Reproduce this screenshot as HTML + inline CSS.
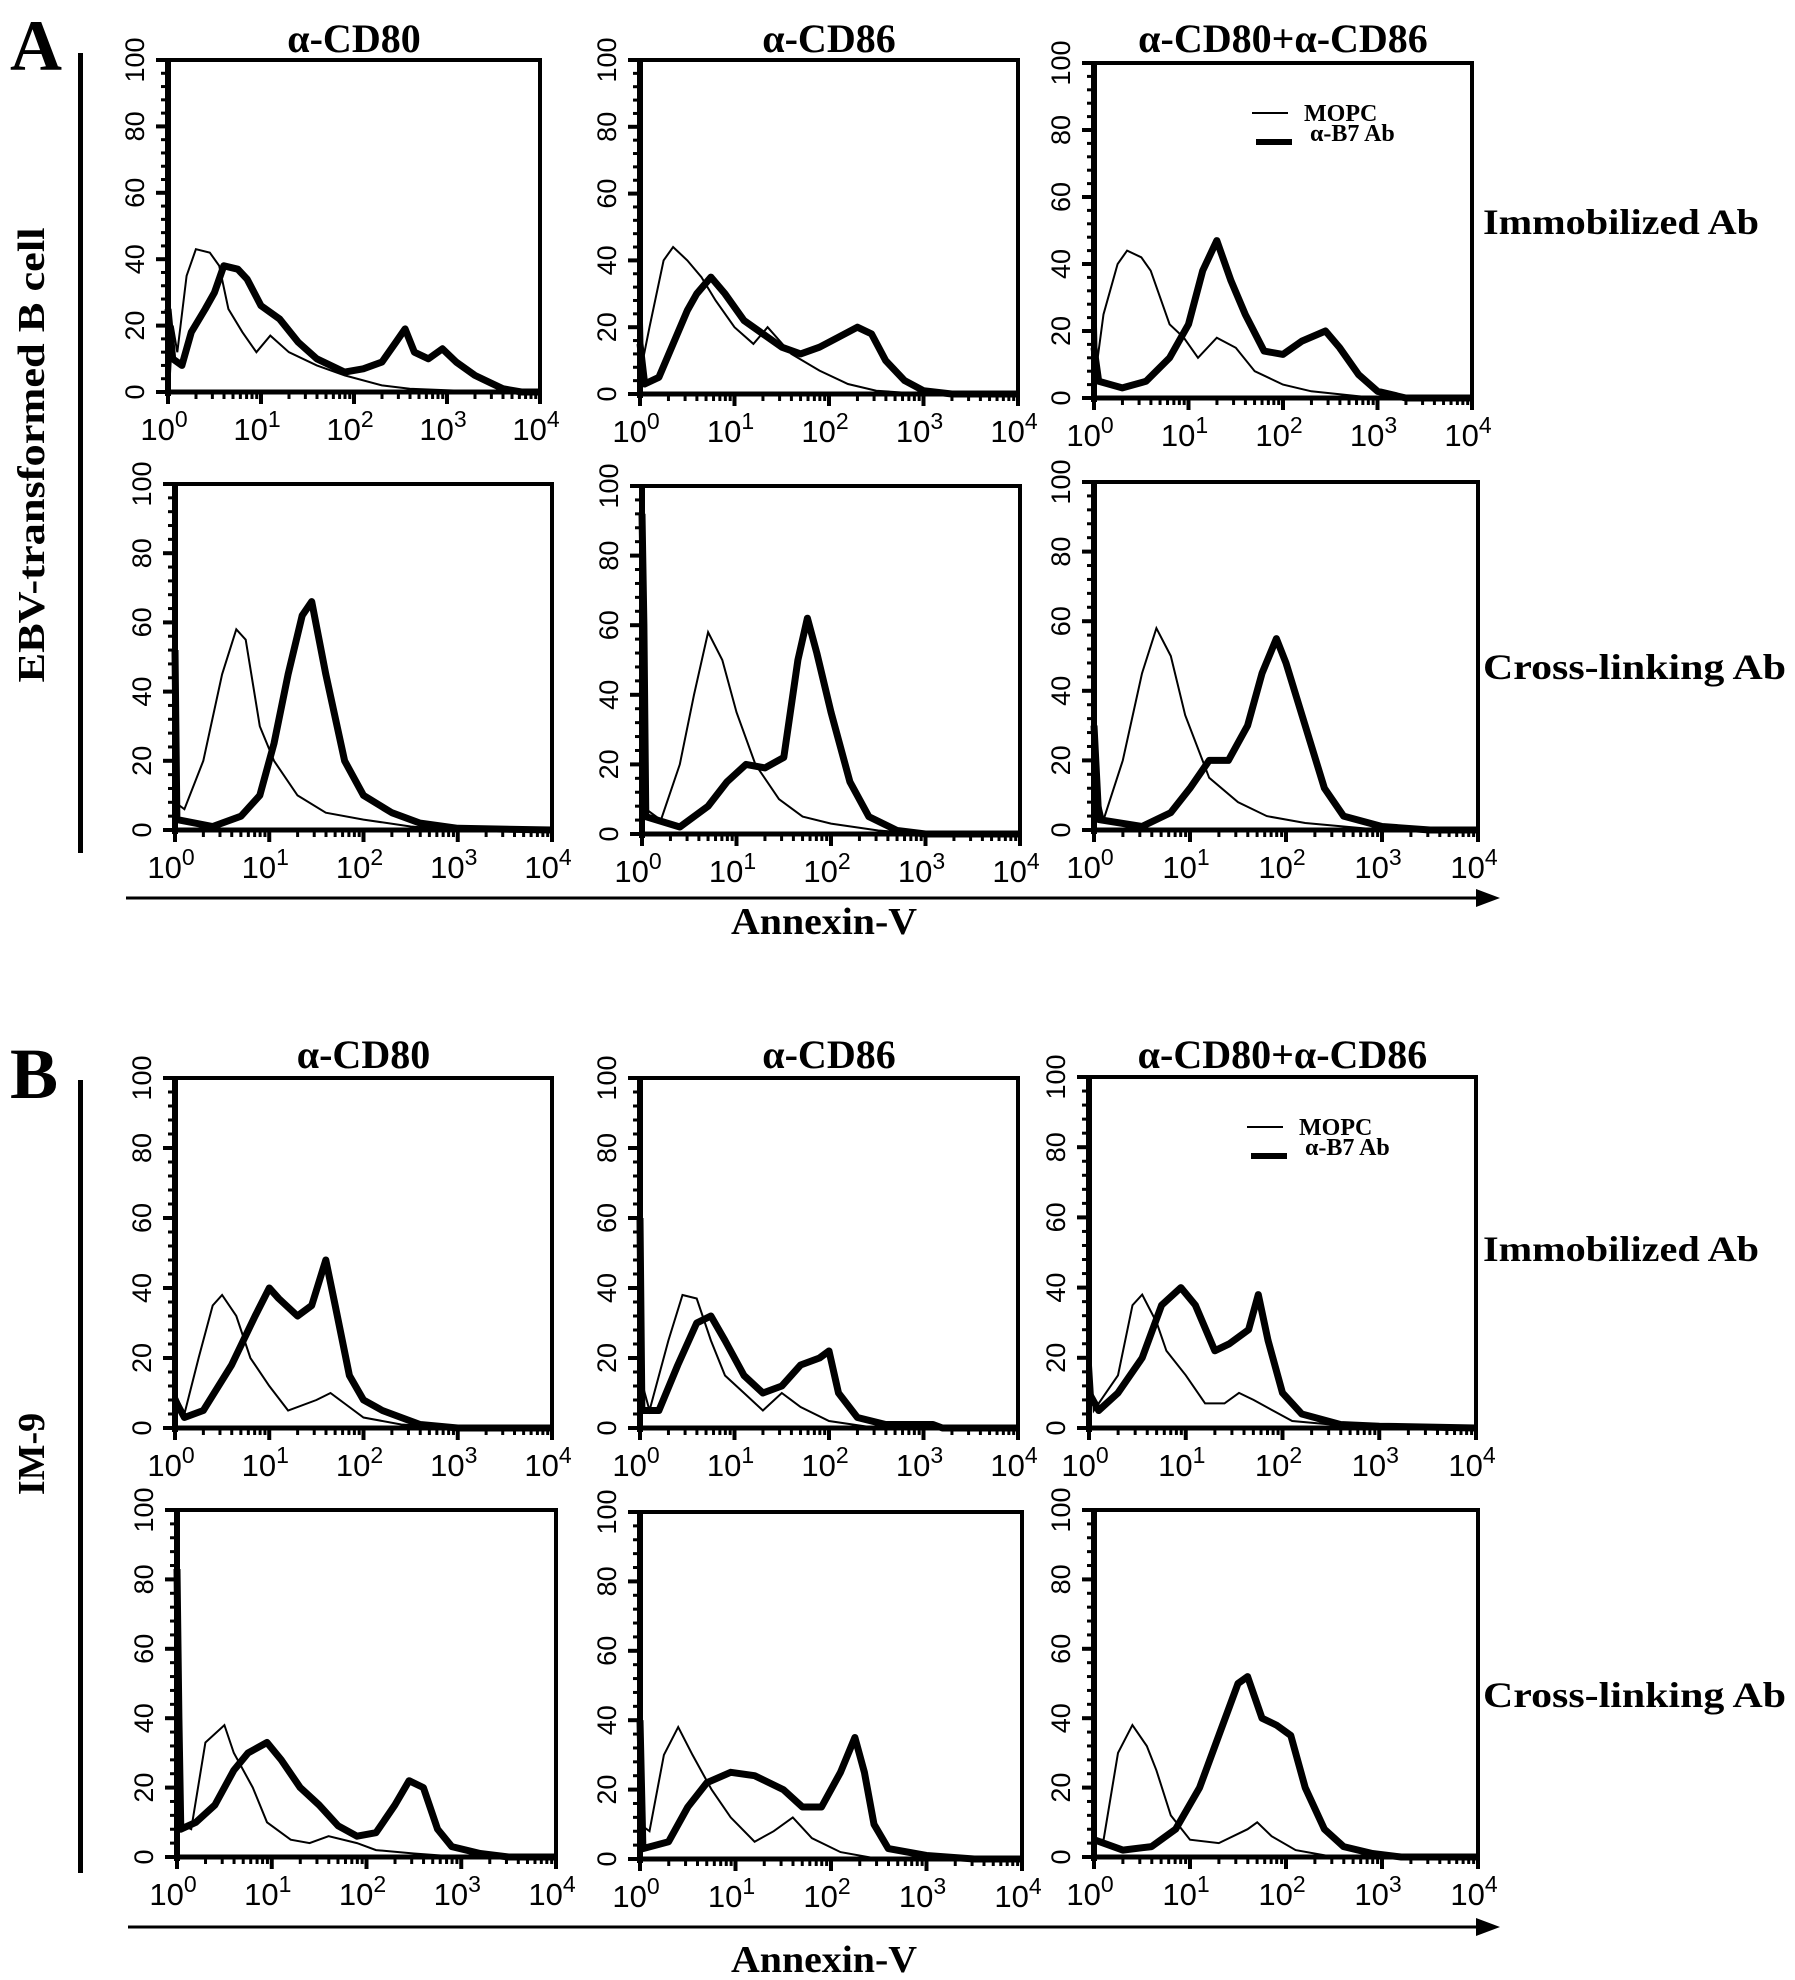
<!DOCTYPE html>
<html><head><meta charset="utf-8"><style>
html,body{margin:0;padding:0;background:#fff;}
svg{display:block;}
text{font-family:"Liberation Serif",serif;font-weight:bold;fill:#000;}
.tk{font-family:"Liberation Sans",sans-serif;font-weight:normal;}
</style></head><body>
<svg id="fig" width="1795" height="1980" viewBox="0 0 1795 1980" xmlns="http://www.w3.org/2000/svg">
<g>
<text x="10" y="70" font-size="72">A</text>
<rect x="78" y="53" width="5" height="800"/>
<text transform="translate(44,455) rotate(-90)" text-anchor="middle" font-size="38" textLength="455" lengthAdjust="spacingAndGlyphs">EBV-transformed B cell</text>
<text x="1483" y="234" font-size="36" textLength="276" lengthAdjust="spacingAndGlyphs">Immobilized Ab</text>
<text x="1483" y="679" font-size="36" textLength="303" lengthAdjust="spacingAndGlyphs">Cross-linking  Ab</text>
<line x1="126" y1="898" x2="1480" y2="898" stroke="#000" stroke-width="3"/>
<polygon points="1500,898 1476,889 1476,907"/>
<text x="824" y="934" text-anchor="middle" font-size="38" textLength="186" lengthAdjust="spacingAndGlyphs">Annexin-V</text>
</g>
<g>
<text x="10" y="1098" font-size="72">B</text>
<rect x="78" y="1080" width="5" height="793"/>
<text transform="translate(44,1454) rotate(-90)" text-anchor="middle" font-size="38">IM-9</text>
<text x="1483" y="1261" font-size="36" textLength="276" lengthAdjust="spacingAndGlyphs">Immobilized Ab</text>
<text x="1483" y="1707" font-size="36" textLength="303" lengthAdjust="spacingAndGlyphs">Cross-linking  Ab</text>
<line x1="128" y1="1927" x2="1480" y2="1927" stroke="#000" stroke-width="3"/>
<polygon points="1500,1927 1476,1918 1476,1936"/>
<text x="824" y="1972" text-anchor="middle" font-size="38" textLength="186" lengthAdjust="spacingAndGlyphs">Annexin-V</text>
</g>
</svg>
<script>
// ---- data (x = log10 Annexin-V intensity, y = % of max) ----
const decadeTicks=[0,1,2,3,4];
const yTicks=[0,20,40,60,80,100];
const colTitles=["\u03b1-CD80","\u03b1-CD86","\u03b1-CD80+\u03b1-CD86"];

const a11ThinX=[0,0.02,0.05,0.1,0.2,0.3,0.45,0.55,0.65,0.8,0.95,1.1,1.3,1.6,1.9,2.3,2.6,3,3.5,4];
const a11ThinY=[50,5,20,12,35,43,42,38,25,18,12,17,12,8,5,2,1,0.5,0,0];
const a11ThickX=[0,0.05,0.15,0.25,0.4,0.5,0.6,0.75,0.85,1.0,1.2,1.4,1.6,1.9,2.1,2.3,2.45,2.55,2.65,2.8,2.95,3.1,3.3,3.6,3.8,4];
const a11ThickY=[25,10,8,18,25,30,38,37,34,26,22,15,10,6,7,9,15,19,12,10,13,9,5,1,0,0];

const a12ThinX=[0,0.03,0.1,0.25,0.35,0.5,0.65,0.8,1.0,1.2,1.35,1.6,1.9,2.2,2.5,3,4];
const a12ThinY=[50,10,20,40,44,40,35,28,20,15,20,12,7,3,1,0,0];
const a12ThickX=[0,0.05,0.2,0.35,0.5,0.6,0.75,0.9,1.1,1.3,1.5,1.7,1.9,2.1,2.3,2.45,2.6,2.8,3.0,3.3,4];
const a12ThickY=[15,3,5,15,25,30,35,30,22,18,14,12,14,17,20,18,10,4,1,0,0];

const a13ThinX=[0,0.03,0.1,0.25,0.35,0.5,0.6,0.8,0.95,1.1,1.3,1.5,1.7,2,2.3,2.8,3,4];
const a13ThinY=[50,10,25,40,44,42,38,22,18,12,18,15,8,4,2,0.5,0,0];
const a13ThickX=[0,0.05,0.3,0.55,0.8,1,1.15,1.3,1.45,1.6,1.8,2.0,2.2,2.45,2.6,2.8,3,3.3,4];
const a13ThickY=[15,5,3,5,12,22,38,47,35,25,14,13,17,20,15,7,2,0,0];

const a21ThinX=[0,0.1,0.3,0.5,0.65,0.75,0.9,1.05,1.3,1.6,2,2.5,3,4];
const a21ThinY=[8,6,20,45,58,55,30,20,10,5,3,1,0,0];
const a21ThickX=[0,0.02,0.4,0.7,0.9,1.05,1.2,1.35,1.45,1.6,1.8,2.0,2.3,2.6,3,4];
const a21ThickY=[52,3,1,4,10,25,45,62,66,45,20,10,5,2,0.5,0];

const a22ThinX=[0,0.2,0.4,0.55,0.7,0.85,1.0,1.2,1.45,1.7,2.0,2.5,3,4];
const a22ThinY=[8,4,20,40,58,50,35,20,10,5,3,1,0,0];
const a22ThickX=[0,0.02,0.04,0.4,0.7,0.9,1.1,1.3,1.5,1.65,1.75,1.85,2.0,2.2,2.4,2.7,3,4];
const a22ThickY=[92,60,5,2,8,15,20,19,22,50,62,52,35,15,5,1,0,0];

const a23ThinX=[0,0.1,0.3,0.5,0.65,0.8,0.95,1.2,1.5,1.8,2.2,2.6,3,4];
const a23ThinY=[15,3,20,45,58,50,33,15,8,4,2,1,0,0];
const a23ThickX=[0,0.05,0.5,0.8,1.0,1.2,1.4,1.6,1.75,1.9,2.0,2.2,2.4,2.6,3,3.5,4];
const a23ThickY=[30,3,1,5,12,20,20,30,45,55,48,30,12,4,1,0,0];

const b11ThinX=[0,0.1,0.25,0.4,0.5,0.65,0.8,1.0,1.2,1.5,1.65,1.8,2.0,2.4,3,4];
const b11ThinY=[10,4,20,35,38,32,20,12,5,8,10,7,3,1,0,0];
const b11ThickX=[0,0.1,0.3,0.6,0.85,1.0,1.1,1.3,1.45,1.6,1.7,1.85,2.0,2.2,2.4,2.6,3,4];
const b11ThickY=[8,3,5,18,32,40,37,32,35,48,35,15,8,5,3,1,0,0];

const b12ThinX=[0,0.1,0.3,0.45,0.6,0.75,0.9,1.1,1.3,1.5,1.7,2.0,2.5,4];
const b12ThinY=[15,5,25,38,37,25,15,10,5,10,6,2,0,0];
const b12ThickX=[0,0.02,0.2,0.4,0.6,0.75,0.9,1.1,1.3,1.5,1.7,1.9,2.0,2.1,2.3,2.6,3.1,3.2,4];
const b12ThickY=[60,5,5,18,30,32,25,15,10,12,18,20,22,10,3,1,1,0,0];

const b13ThinX=[0,0.05,0.3,0.45,0.55,0.7,0.8,1.0,1.2,1.4,1.55,1.7,1.9,2.1,2.5,4];
const b13ThinY=[27,5,15,35,38,30,22,15,7,7,10,8,5,2,1,0];
const b13ThickX=[0,0.1,0.3,0.55,0.75,0.95,1.1,1.3,1.45,1.65,1.75,1.85,2.0,2.2,2.6,3,4];
const b13ThickY=[10,5,10,20,35,40,35,22,24,28,38,25,10,4,1,0.5,0];

const b21ThinX=[0,0.15,0.3,0.5,0.6,0.8,0.95,1.2,1.4,1.6,1.9,2.1,2.5,3,4];
const b21ThinY=[10,8,33,38,30,20,10,5,4,6,4,2,1,0,0];
const b21ThickX=[0,0.02,0.04,0.2,0.4,0.6,0.75,0.95,1.1,1.3,1.5,1.7,1.9,2.1,2.3,2.45,2.6,2.75,2.9,3.2,3.5,4];
const b21ThickY=[83,40,8,10,15,25,30,33,28,20,15,9,6,7,15,22,20,8,3,1,0,0];

const b22ThinX=[0,0.1,0.25,0.4,0.55,0.75,0.95,1.2,1.4,1.6,1.8,2.1,2.5,4];
const b22ThinY=[10,8,30,38,30,20,12,5,8,12,6,2,0,0];
const b22ThickX=[0,0.03,0.3,0.5,0.7,0.95,1.2,1.5,1.7,1.9,2.1,2.25,2.35,2.45,2.6,3,3.5,4];
const b22ThickY=[40,3,5,15,22,25,24,20,15,15,25,35,25,10,3,1,0,0];

const b23ThinX=[0,0.1,0.25,0.4,0.55,0.65,0.8,1.0,1.3,1.6,1.7,1.85,2.1,2.5,4];
const b23ThinY=[5,5,30,38,32,25,12,5,4,8,10,6,2,0,0];
const b23ThickX=[0,0.3,0.6,0.85,1.1,1.3,1.5,1.6,1.75,1.9,2.05,2.2,2.4,2.6,2.9,3.2,4];
const b23ThickY=[5,2,3,8,20,35,50,52,40,38,35,20,8,3,1,0,0];

// ---- layout ----
const panels=[
 {id:"a-immob-cd80",x0:168,x1:540,y0:60,y1:392,title:0,ty:52,legend:false,tx:a11ThinX,ty2:a11ThinY,kx:a11ThickX,ky:a11ThickY},
 {id:"a-immob-cd86",x0:640,x1:1018,y0:60,y1:394,title:1,ty:52,legend:false,tx:a12ThinX,ty2:a12ThinY,kx:a12ThickX,ky:a12ThickY},
 {id:"a-immob-both",x0:1094,x1:1472,y0:63,y1:398,title:2,ty:52,legend:true,tx:a13ThinX,ty2:a13ThinY,kx:a13ThickX,ky:a13ThickY},
 {id:"a-cross-cd80",x0:175,x1:552,y0:484,y1:830,title:-1,tx:a21ThinX,ty2:a21ThinY,kx:a21ThickX,ky:a21ThickY},
 {id:"a-cross-cd86",x0:642,x1:1020,y0:486,y1:834,title:-1,tx:a22ThinX,ty2:a22ThinY,kx:a22ThickX,ky:a22ThickY},
 {id:"a-cross-both",x0:1094,x1:1478,y0:482,y1:830,title:-1,tx:a23ThinX,ty2:a23ThinY,kx:a23ThickX,ky:a23ThickY},
 {id:"b-immob-cd80",x0:175,x1:552,y0:1078,y1:1428,title:0,ty:1068,legend:false,tx:b11ThinX,ty2:b11ThinY,kx:b11ThickX,ky:b11ThickY},
 {id:"b-immob-cd86",x0:640,x1:1018,y0:1078,y1:1428,title:1,ty:1068,legend:false,tx:b12ThinX,ty2:b12ThinY,kx:b12ThickX,ky:b12ThickY},
 {id:"b-immob-both",x0:1089,x1:1476,y0:1077,y1:1428,title:2,ty:1068,legend:true,tx:b13ThinX,ty2:b13ThinY,kx:b13ThickX,ky:b13ThickY},
 {id:"b-cross-cd80",x0:177,x1:556,y0:1510,y1:1857,title:-1,tx:b21ThinX,ty2:b21ThinY,kx:b21ThickX,ky:b21ThickY},
 {id:"b-cross-cd86",x0:640,x1:1022,y0:1512,y1:1859,title:-1,tx:b22ThinX,ty2:b22ThinY,kx:b22ThickX,ky:b22ThickY},
 {id:"b-cross-both",x0:1094,x1:1478,y0:1510,y1:1857,title:-1,tx:b23ThinX,ty2:b23ThinY,kx:b23ThickX,ky:b23ThickY}
];
const NS="http://www.w3.org/2000/svg";
const svg=document.getElementById("fig");
function mk(tag,attrs,parent){const e=document.createElementNS(NS,tag);for(const k in attrs)e.setAttribute(k,attrs[k]);parent.appendChild(e);return e;}

panels.forEach(p=>{
  const g=mk("g",{},svg);
  
  
  const sx=v=>p.x0+(p.x1-p.x0)*v/4;
  const sy=v=>p.y1-(p.y1-p.y0)*v/100;
  const box=mk("rect",{x:p.x0,y:p.y0,width:p.x1-p.x0,height:p.y1-p.y0,fill:"none",stroke:"#000","stroke-width":4},g);
  
  
  mk("line",{x1:p.x0,y1:p.y0,x2:p.x0,y2:p.y1+4,stroke:"#000","stroke-width":6},g);
  mk("line",{x1:p.x0-2,y1:p.y1,x2:p.x1,y2:p.y1,stroke:"#000","stroke-width":5},g);
  for(let v=0;v<=100;v+=4){
    const major=v%20===0;
    mk("line",{x1:p.x0-(major?12:7),y1:sy(v),x2:p.x0,y2:sy(v),stroke:"#000","stroke-width":major?4:3},g);
  }
  yTicks.forEach(v=>{
    const t=mk("text",{class:"tk",transform:`translate(${p.x0-24},${sy(v)}) rotate(-90)`,"text-anchor":"middle","font-size":27},g);
    t.textContent=String(v);
    
    
  });
  decadeTicks.forEach(d=>{
    mk("line",{x1:sx(d),y1:p.y1,x2:sx(d),y2:p.y1+12,stroke:"#000","stroke-width":4},g);
    if(d<4){for(let m=2;m<10;m++){const xv=d+Math.log10(m);mk("line",{x1:sx(xv),y1:p.y1,x2:sx(xv),y2:p.y1+7,stroke:"#000","stroke-width":3},g);}}
    const t=mk("text",{class:"tk",x:sx(d)-4,y:p.y1+48,"text-anchor":"middle","font-size":31},g);
    
    
    const a=mk("tspan",{},t);a.textContent="10";
    const b=mk("tspan",{dy:-13,"font-size":23},t);b.textContent=String(d);
  });
  const thin=p.tx.map((x,i)=>sx(x).toFixed(1)+","+sy(p.ty2[i]).toFixed(1)).join(" ");
  const l1=mk("polyline",{points:thin,fill:"none",stroke:"#000","stroke-width":2,"stroke-linejoin":"miter"},g);
  
  
  const thick=p.kx.map((x,i)=>sx(x).toFixed(1)+","+sy(p.ky[i]).toFixed(1)).join(" ");
  const l2=mk("polyline",{points:thick,fill:"none",stroke:"#000","stroke-width":7,"stroke-linejoin":"round"},g);
  
  
  if(p.title>=0){
    const t=mk("text",{x:(p.x0+p.x1)/2,y:p.ty,"text-anchor":"middle","font-size":40},g);
    t.textContent=colTitles[p.title];
    
    
  }
  if(p.legend){
    const lg=mk("g",{},g);
    
    
    const lx=p.x0+158, ly=p.y0+50;
    mk("line",{x1:lx,y1:ly,x2:lx+36,y2:ly,stroke:"#000","stroke-width":2},lg);
    const t1=mk("text",{x:lx+52,y:ly+8,"font-size":24},lg);t1.textContent="MOPC";
    
    
    mk("line",{x1:lx+4,y1:ly+29,x2:lx+40,y2:ly+29,stroke:"#000","stroke-width":6},lg);
    const t2=mk("text",{x:lx+58,y:ly+28,"font-size":24},lg);t2.textContent="\u03b1-B7 Ab";
    
    
  }
});
</script>
</body></html>
